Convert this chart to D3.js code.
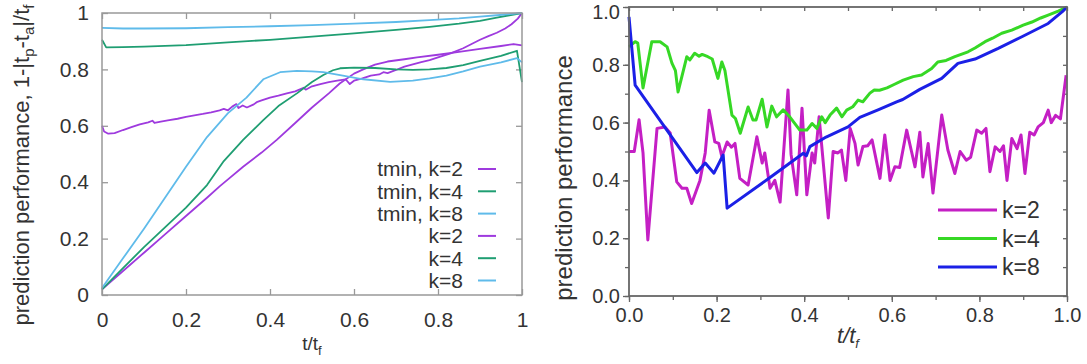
<!DOCTYPE html>
<html>
<head>
<meta charset="utf-8">
<script src="https://cdn.jsdelivr.net/npm/d3@7"></script>
<style>
  body { margin: 0; background: #fff; }
  svg { display: block; font-family: "Liberation Sans", Arial, sans-serif; }
</style>
</head>
<body>
<svg id="chart" width="1087" height="364"></svg>
<script>
// ---- left panel data: [t/tf, performance] ----
const tminK2 = [[0,0.60],[0.005,0.58],[0.015,0.572],[0.03,0.574],[0.05,0.585],[0.07,0.595],[0.09,0.605],[0.11,0.612],[0.12,0.618],[0.125,0.61],[0.14,0.615],[0.16,0.62],[0.18,0.625],[0.2,0.632],[0.22,0.637],[0.24,0.642],[0.26,0.648],[0.28,0.655],[0.29,0.66],[0.3,0.655],[0.31,0.668],[0.32,0.677],[0.325,0.663],[0.335,0.672],[0.345,0.665],[0.36,0.675],[0.37,0.685],[0.38,0.69],[0.4,0.70],[0.42,0.707],[0.44,0.715],[0.46,0.722],[0.48,0.735],[0.485,0.728],[0.5,0.74],[0.52,0.748],[0.54,0.755],[0.56,0.76],[0.58,0.765],[0.59,0.748],[0.6,0.76],[0.62,0.768],[0.64,0.778],[0.66,0.782],[0.67,0.79],[0.68,0.787],[0.7,0.798],[0.72,0.81],[0.74,0.818],[0.76,0.826],[0.78,0.833],[0.8,0.843],[0.83,0.857],[0.86,0.875],[0.88,0.89],[0.9,0.905],[0.92,0.918],[0.94,0.93],[0.96,0.945],[0.975,0.96],[0.99,0.98],[1,1.0]];
const tminK4 = [[0,0.905],[0.01,0.878],[0.05,0.879],[0.1,0.881],[0.2,0.886],[0.3,0.896],[0.4,0.905],[0.5,0.916],[0.6,0.928],[0.7,0.94],[0.78,0.951],[0.85,0.962],[0.9,0.972],[0.94,0.984],[0.97,0.992],[1,1.0]];
const tminK8 = [[0,0.947],[0.05,0.945],[0.1,0.945],[0.2,0.946],[0.3,0.95],[0.4,0.953],[0.5,0.957],[0.6,0.962],[0.7,0.968],[0.78,0.975],[0.85,0.981],[0.9,0.987],[0.94,0.992],[0.97,0.996],[1,1.0]];
const leftK2 = [[0,0.02],[0.05,0.085],[0.1,0.15],[0.15,0.215],[0.2,0.28],[0.25,0.345],[0.28,0.385],[0.3,0.41],[0.336,0.455],[0.38,0.505],[0.416,0.55],[0.46,0.61],[0.5,0.665],[0.54,0.715],[0.566,0.75],[0.6,0.785],[0.622,0.80],[0.65,0.817],[0.68,0.828],[0.72,0.836],[0.75,0.843],[0.8,0.852],[0.85,0.862],[0.9,0.873],[0.95,0.883],[0.98,0.89],[1,0.885]];
const leftK4 = [[0,0.02],[0.05,0.095],[0.1,0.17],[0.15,0.24],[0.2,0.31],[0.25,0.39],[0.29,0.475],[0.336,0.55],[0.384,0.62],[0.42,0.67],[0.464,0.715],[0.5,0.755],[0.527,0.78],[0.55,0.797],[0.567,0.804],[0.6,0.806],[0.65,0.805],[0.7,0.8],[0.74,0.798],[0.78,0.8],[0.82,0.805],[0.86,0.815],[0.9,0.83],[0.95,0.848],[0.988,0.866],[1,0.755]];
const leftK8 = [[0,0.025],[0.05,0.13],[0.1,0.235],[0.15,0.345],[0.2,0.455],[0.25,0.56],[0.3,0.645],[0.344,0.70],[0.384,0.765],[0.424,0.79],[0.464,0.795],[0.5,0.793],[0.527,0.79],[0.567,0.78],[0.622,0.765],[0.686,0.756],[0.74,0.76],[0.78,0.768],[0.82,0.778],[0.86,0.793],[0.9,0.81],[0.95,0.825],[0.988,0.84],[1,0.825]];
const leftNames = ['tmin, k=2', 'tmin, k=4', 'tmin, k=8', 'k=2', 'k=4', 'k=8'];
const leftTicks = [0, 0.2, 0.4, 0.6, 0.8, 1];

// ---- right panel data ----
const rightK2 = [[0,0.5],[0.012,0.5],[0.023,0.61],[0.032,0.495],[0.043,0.194],[0.064,0.58],[0.082,0.585],[0.094,0.564],[0.109,0.395],[0.121,0.373],[0.132,0.373],[0.143,0.32],[0.162,0.40],[0.174,0.495],[0.183,0.643],[0.196,0.533],[0.205,0.528],[0.212,0.482],[0.224,0.533],[0.234,0.515],[0.242,0.528],[0.253,0.407],[0.272,0.384],[0.292,0.551],[0.304,0.46],[0.31,0.495],[0.322,0.373],[0.333,0.40],[0.345,0.325],[0.363,0.713],[0.37,0.49],[0.383,0.35],[0.395,0.65],[0.406,0.35],[0.418,0.495],[0.424,0.46],[0.434,0.62],[0.455,0.27],[0.466,0.50],[0.477,0.495],[0.485,0.505],[0.495,0.40],[0.505,0.58],[0.516,0.528],[0.523,0.453],[0.534,0.517],[0.545,0.52],[0.555,0.54],[0.573,0.407],[0.584,0.557],[0.596,0.40],[0.607,0.447],[0.618,0.445],[0.634,0.574],[0.645,0.50],[0.653,0.447],[0.664,0.567],[0.671,0.412],[0.683,0.528],[0.694,0.356],[0.714,0.626],[0.728,0.505],[0.744,0.424],[0.756,0.50],[0.77,0.47],[0.78,0.48],[0.794,0.574],[0.805,0.563],[0.815,0.58],[0.824,0.43],[0.836,0.516],[0.847,0.5],[0.855,0.52],[0.863,0.40],[0.874,0.545],[0.886,0.51],[0.895,0.557],[0.904,0.424],[0.915,0.567],[0.925,0.557],[0.934,0.585],[0.946,0.60],[0.957,0.643],[0.964,0.6],[0.974,0.625],[0.985,0.613],[0.998,0.764]];
const rightK4 = [[0,0.862],[0.014,0.88],[0.02,0.875],[0.032,0.72],[0.052,0.88],[0.071,0.88],[0.087,0.862],[0.098,0.806],[0.106,0.78],[0.112,0.706],[0.132,0.828],[0.139,0.817],[0.15,0.84],[0.16,0.83],[0.167,0.836],[0.18,0.828],[0.19,0.82],[0.203,0.753],[0.212,0.81],[0.219,0.78],[0.235,0.626],[0.243,0.614],[0.254,0.563],[0.272,0.654],[0.283,0.609],[0.29,0.609],[0.304,0.681],[0.315,0.585],[0.326,0.657],[0.337,0.62],[0.352,0.644],[0.367,0.62],[0.39,0.574],[0.406,0.574],[0.418,0.597],[0.429,0.58],[0.44,0.62],[0.448,0.6],[0.459,0.626],[0.474,0.65],[0.486,0.62],[0.497,0.643],[0.511,0.655],[0.523,0.678],[0.534,0.672],[0.55,0.702],[0.56,0.713],[0.572,0.712],[0.589,0.72],[0.604,0.731],[0.626,0.747],[0.649,0.759],[0.668,0.765],[0.691,0.787],[0.705,0.81],[0.724,0.815],[0.744,0.828],[0.774,0.845],[0.79,0.858],[0.813,0.88],[0.83,0.892],[0.851,0.909],[0.874,0.92],[0.9,0.937],[0.92,0.948],[0.94,0.962],[0.957,0.972],[0.98,0.986],[1,1.0]];
const rightK8 = [[0,0.966],[0.014,0.73],[0.155,0.427],[0.174,0.46],[0.194,0.425],[0.215,0.488],[0.224,0.304],[0.322,0.41],[0.398,0.494],[0.405,0.485],[0.413,0.517],[0.45,0.55],[0.5,0.585],[0.527,0.618],[0.57,0.645],[0.611,0.672],[0.625,0.68],[0.664,0.715],[0.714,0.753],[0.751,0.805],[0.79,0.82],[0.843,0.857],[0.897,0.897],[0.957,0.943],[0.99,0.985],[1,1.0]];
const rightNames = ['k=2', 'k=4', 'k=8'];
const rightTicks = [0, 0.2, 0.4, 0.6, 0.8, 1.0];

const svg = d3.select('#chart');

// ================= left panel =================
const lx = d3.scaleLinear().domain([0, 1]).range([102, 522]);
const ly = d3.scaleLinear().domain([0, 1]).range([295, 13]);
const left = svg.append('g');
const leftColors = ['#9e3ade', '#1f9e72', '#5fbbea', '#9e3ade', '#1f9e72', '#5fbbea'];
const leftSeries = [tminK2, tminK4, tminK8, leftK2, leftK4, leftK8];

function styleAxis(g, col, size) {
    g.select('.domain').remove();
    g.selectAll('line').attr('stroke', col).attr('stroke-width', 1.3);
    g.selectAll('text').attr('fill', '#333').attr('font-size', size);
}

left.append('g').attr('transform', 'translate(0,295)')
    .call(d3.axisBottom(lx).tickValues(leftTicks).tickFormat(d3.format('')).tickSize(-6).tickPadding(17))
    .call(g => styleAxis(g, '#999', 21));
left.append('g').attr('transform', 'translate(102,0)')
    .call(d3.axisLeft(ly).tickValues(leftTicks).tickFormat(d3.format('')).tickSize(-6).tickPadding(13))
    .call(g => styleAxis(g, '#999', 21));
left.append('g').attr('transform', 'translate(0,13)')
    .call(d3.axisTop(lx).tickValues(leftTicks).tickFormat('').tickSize(-6))
    .call(g => styleAxis(g, '#999', 21));
left.append('g').attr('transform', 'translate(522,0)')
    .call(d3.axisRight(ly).tickValues(leftTicks).tickFormat('').tickSize(-6))
    .call(g => styleAxis(g, '#999', 21));

const lLine = d3.line().x(d => lx(d[0])).y(d => ly(d[1]));
leftSeries.forEach((s, i) => {
    left.append('path').datum(s).attr('d', lLine)
        .attr('fill', 'none').attr('stroke', leftColors[i])
        .attr('stroke-width', 1.8).attr('stroke-linejoin', 'round');
});
left.append('rect').attr('x', 102).attr('y', 13).attr('width', 420).attr('height', 282)
    .attr('fill', 'none').attr('stroke', '#999').attr('stroke-width', 1.5);

// left legend
leftNames.forEach((n, i) => {
    const yy = 169 + i * 22.3;
    left.append('text').attr('x', 463).attr('y', yy).attr('dy', '0.35em')
        .attr('text-anchor', 'end').attr('font-size', 21).attr('fill', '#333').text(n);
    left.append('line').attr('x1', 478).attr('x2', 496).attr('y1', yy).attr('y2', yy)
        .attr('stroke', leftColors[i]).attr('stroke-width', 2);
});

// left axis titles
const lyl = left.append('text').attr('transform', 'translate(29,165) rotate(-90)')
    .attr('text-anchor', 'middle').attr('font-size', 22).attr('fill', '#333');
lyl.append('tspan').text('prediction performance, 1-|t');
lyl.append('tspan').attr('font-size', 15).attr('dy', 5).text('p');
lyl.append('tspan').attr('dy', -5).text('-t');
lyl.append('tspan').attr('font-size', 15).attr('dy', 5).text('a');
lyl.append('tspan').attr('dy', -5).text('|/t');
lyl.append('tspan').attr('font-size', 15).attr('dy', 5).text('f');

const lxl = left.append('text').attr('x', 312).attr('y', 350)
    .attr('text-anchor', 'middle').attr('font-size', 19).attr('fill', '#333');
lxl.append('tspan').text('t/t');
lxl.append('tspan').attr('font-size', 13).attr('dy', 5).text('f');

// ================= right panel =================
const rx = d3.scaleLinear().domain([0, 1]).range([629, 1067]);
const ry = d3.scaleLinear().domain([0, 1]).range([296, 7]);
const right = svg.append('g');
const rightColors = ['#c41fc4', '#36d825', '#1b20e6'];
const rightSeries = [rightK2, rightK4, rightK8];
const minor = d3.range(0, 1.001, 0.1);

right.append('g').attr('transform', 'translate(0,296)')
    .call(d3.axisBottom(rx).tickValues(minor).tickFormat('').tickSize(4))
    .call(g => styleAxis(g, '#666', 20));
right.append('g').attr('transform', 'translate(0,296)')
    .call(d3.axisBottom(rx).tickValues(rightTicks).tickFormat(d3.format('.1f')).tickSize(6).tickPadding(6))
    .call(g => styleAxis(g, '#666', 20));
right.append('g').attr('transform', 'translate(629,0)')
    .call(d3.axisLeft(ry).tickValues(minor).tickFormat('').tickSize(4))
    .call(g => styleAxis(g, '#666', 20));
right.append('g').attr('transform', 'translate(629,0)')
    .call(d3.axisLeft(ry).tickValues(rightTicks).tickFormat(d3.format('.1f')).tickSize(6).tickPadding(3))
    .call(g => styleAxis(g, '#666', 20))
    .call(g => g.selectAll('.tick').filter(d => d === 1).select('text').attr('dy', '0.55em'));
right.append('g').attr('transform', 'translate(0,7)')
    .call(d3.axisTop(rx).tickValues(minor).tickFormat('').tickSize(-4))
    .call(g => styleAxis(g, '#666', 20));
right.append('g').attr('transform', 'translate(1067,0)')
    .call(d3.axisRight(ry).tickValues(minor).tickFormat('').tickSize(-4))
    .call(g => styleAxis(g, '#666', 20));

const rLine = d3.line().x(d => rx(d[0])).y(d => ry(d[1]));
rightSeries.forEach((s, i) => {
    right.append('path').datum(s).attr('d', rLine)
        .attr('fill', 'none').attr('stroke', rightColors[i])
        .attr('stroke-width', 3).attr('stroke-linejoin', 'round');
});
right.append('rect').attr('x', 629).attr('y', 7).attr('width', 438).attr('height', 289)
    .attr('fill', 'none').attr('stroke', '#666').attr('stroke-width', 1.8);

// right legend
rightNames.forEach((n, i) => {
    const yy = 210 + i * 28.5;
    right.append('line').attr('x1', 938).attr('x2', 997).attr('y1', yy).attr('y2', yy)
        .attr('stroke', rightColors[i]).attr('stroke-width', 3);
    right.append('text').attr('x', 1002).attr('y', yy).attr('dy', '0.36em')
        .attr('font-size', 23).attr('fill', '#333').text(n);
});

// right axis titles
right.append('text').attr('transform', 'translate(572,178) rotate(-90)')
    .attr('text-anchor', 'middle').attr('font-size', 24).attr('fill', '#333')
    .text('prediction performance');
const rxl = right.append('text').attr('x', 848).attr('y', 343)
    .attr('text-anchor', 'middle').attr('font-size', 22).attr('font-style', 'italic').attr('fill', '#333');
rxl.append('tspan').text('t/t');
rxl.append('tspan').attr('font-size', 13).attr('dy', 5).text('f');
</script>
</body>
</html>
